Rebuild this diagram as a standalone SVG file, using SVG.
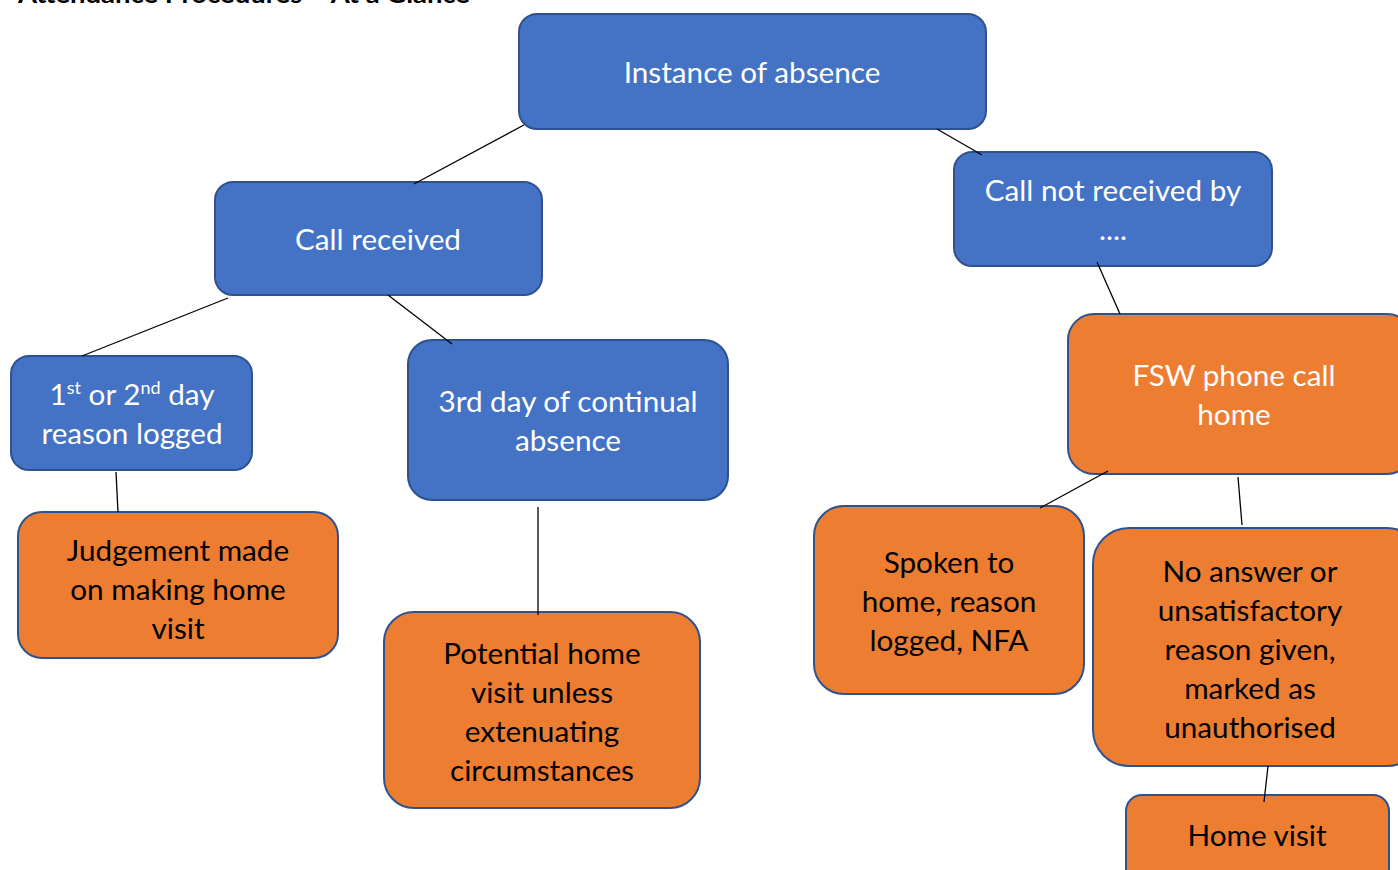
<svg xmlns="http://www.w3.org/2000/svg" width="1398" height="870" viewBox="0 0 1398 870">
<style>
  .blue { fill: #4472C4; stroke: #2F528F; stroke-width: 2; }
  .orange { fill: #ED7D31; stroke: #2F528F; stroke-width: 2; }
  .t { font-family: Lato, "Liberation Sans", sans-serif; font-size: 29.7px; text-anchor: middle; }
  .w { fill: #FFFFFF; }
  .k { fill: #000000; }
  .title { font-family: Lato, "Liberation Sans", sans-serif; font-size: 24px; font-weight: bold; fill: #000000; }
  .conn line { stroke: #000000; stroke-width: 1.3; }
</style>
<rect width="1398" height="870" fill="#FFFFFF"/>
<text class="title" x="18" y="3" textLength="452" lengthAdjust="spacingAndGlyphs">Attendance Procedures – At a Glance</text>

<g id="n-instance">
  <rect class="blue" x="519" y="14" width="467" height="115" rx="18"/>
  <text class="t w" x="752" y="83">Instance of absence</text>
</g>
<g id="n-call-received">
  <rect class="blue" x="215" y="182" width="327" height="113" rx="18"/>
  <text class="t w" x="378" y="250">Call received</text>
</g>
<g id="n-call-not-received">
  <rect class="blue" x="954" y="152" width="318" height="114" rx="18"/>
  <text class="t w" x="1113" y="201">Call not received by</text>
  <text class="t w" x="1113" y="240">....</text>
</g>
<g id="n-first-second">
  <rect class="blue" x="11" y="356" width="241" height="114" rx="18"/>
  <text class="t w" x="132" y="405">1<tspan font-size="18" dy="-11">st</tspan><tspan dy="11"> or 2</tspan><tspan font-size="18" dy="-11">nd</tspan><tspan dy="11"> day</tspan></text>
  <text class="t w" x="132" y="444">reason logged</text>
</g>
<g id="n-third-day">
  <rect class="blue" x="408" y="340" width="320" height="160" rx="24"/>
  <text class="t w" x="568" y="412">3rd day of continual</text>
  <text class="t w" x="568" y="451">absence</text>
</g>
<g id="n-fsw">
  <rect class="orange" x="1068" y="314" width="345" height="160" rx="26"/>
  <text class="t w" x="1234" y="386">FSW phone call</text>
  <text class="t w" x="1234" y="425">home</text>
</g>
<g id="n-judgement">
  <rect class="orange" x="18" y="512" width="320" height="146" rx="24"/>
  <text class="t k" x="178" y="561">Judgement made</text>
  <text class="t k" x="178" y="600">on making home</text>
  <text class="t k" x="178" y="639">visit</text>
</g>
<g id="n-potential">
  <rect class="orange" x="384" y="612" width="316" height="196" rx="30"/>
  <text class="t k" x="542" y="664">Potential home</text>
  <text class="t k" x="542" y="703">visit unless</text>
  <text class="t k" x="542" y="742">extenuating</text>
  <text class="t k" x="542" y="781">circumstances</text>
</g>
<g id="n-spoken">
  <rect class="orange" x="814" y="506" width="270" height="188" rx="30"/>
  <text class="t k" x="949" y="573">Spoken to</text>
  <text class="t k" x="949" y="612">home, reason</text>
  <text class="t k" x="949" y="651">logged, NFA</text>
</g>
<g id="n-no-answer">
  <rect class="orange" x="1093" y="528" width="330" height="238" rx="36"/>
  <text class="t k" x="1250" y="582">No answer or</text>
  <text class="t k" x="1250" y="621">unsatisfactory</text>
  <text class="t k" x="1250" y="660">reason given,</text>
  <text class="t k" x="1250" y="699">marked as</text>
  <text class="t k" x="1250" y="738">unauthorised</text>
</g>
<g id="n-home-visit">
  <rect class="orange" x="1126" y="795" width="263" height="100" rx="16"/>
  <text class="t k" x="1257" y="846">Home visit</text>
</g>

<g id="connectors" class="conn">
  <line x1="524" y1="125" x2="414" y2="184"/>
  <line x1="937" y1="129" x2="982" y2="155"/>
  <line x1="228" y1="298" x2="82" y2="356"/>
  <line x1="388" y1="295" x2="452" y2="344"/>
  <line x1="116" y1="472" x2="118" y2="512"/>
  <line x1="538" y1="507" x2="538" y2="615"/>
  <line x1="1097" y1="262" x2="1120" y2="314"/>
  <line x1="1108" y1="471" x2="1040" y2="508"/>
  <line x1="1238" y1="477" x2="1242" y2="525"/>
  <line x1="1268" y1="766" x2="1264" y2="802"/>
</g>
</svg>
